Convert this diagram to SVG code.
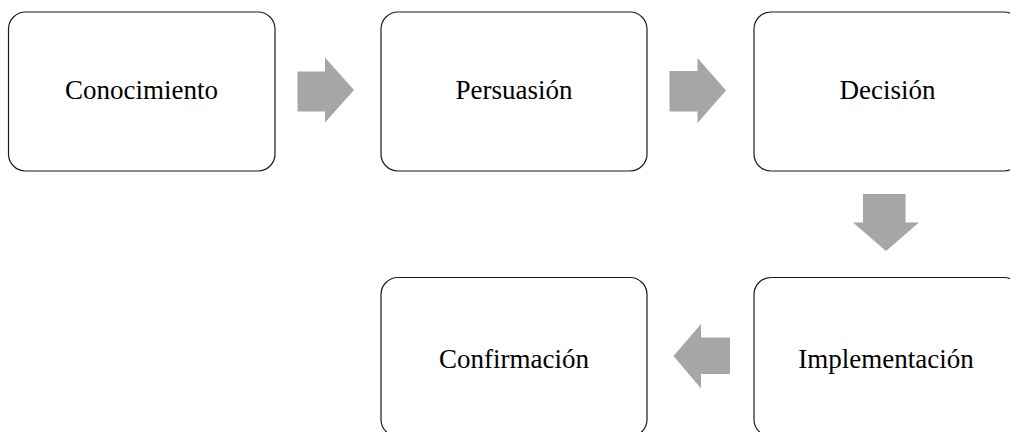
<svg xmlns="http://www.w3.org/2000/svg" width="1010" height="432" viewBox="0 0 1010 432">
<style>
.box{fill:#ffffff;stroke:#1a1a1a;stroke-width:1.2}
.lbl{font-family:"Liberation Serif","Times New Roman",serif;font-size:27px;fill:#000000;text-anchor:middle}
.arr{fill:#a6a6a6;stroke:none}
</style>
<rect width="1010" height="432" fill="#ffffff"/>
<g id="connectors">
<polygon class="arr" points="297.5,71.5 325,71.5 325,57.5 354,90 325,122.5 325,111.5 297.5,111.5"/>
<polygon class="arr" points="669.5,71 697.5,71 697.5,58 726,90.5 697.5,123 697.5,111.5 669.5,111.5"/>
<polygon class="arr" points="863,194 905.5,194 905.5,222.5 919,222.5 886,251 853,222.5 863,222.5"/>
<polygon class="arr" points="730,337.5 730,374 701,374 701,388.5 673.5,356 701,324 701,337.5"/>
</g>
<g id="n1"><rect class="box" x="8.5" y="12" width="266.5" height="159" rx="17"/><text class="lbl" x="141.5" y="98.5">Conocimiento</text></g>
<g id="n2"><rect class="box" x="381" y="12" width="266" height="159" rx="17"/><text class="lbl" x="514" y="98.5">Persuasión</text></g>
<g id="n3"><rect class="box" x="754" y="12" width="267" height="159" rx="17"/><text class="lbl" x="887.5" y="98.5">Decisión</text></g>
<g id="n4"><rect class="box" x="754" y="277.5" width="267" height="159" rx="17"/><text class="lbl" x="886" y="368">Implementación</text></g>
<g id="n5"><rect class="box" x="381" y="277.5" width="266" height="159" rx="17"/><text class="lbl" x="514" y="368">Confirmación</text></g>
</svg>
